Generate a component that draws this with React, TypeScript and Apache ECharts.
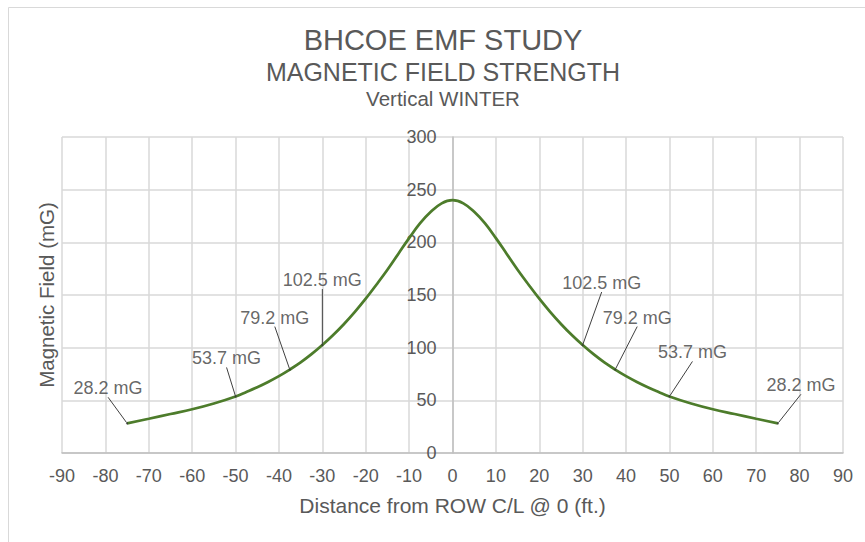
import React, { useEffect, useRef } from "react";
import * as echarts from "echarts";

// Distance from the ROW centre line (ft.) and the computed field at each station (mG)
const distance = [
  -75, -70, -65, -60, -55, -50, -47.5, -45, -42.5, -40, -37.5, -35, -32.5, -30,
  -27.5, -25, -22.5, -20, -17.5, -15, -12.5, -10, -7.5, -5, -2.5, 0,
  2.5, 5, 7.5, 10, 12.5, 15, 17.5, 20, 22.5, 25, 27.5, 30, 32.5, 35, 37.5, 40,
  42.5, 45, 47.5, 50, 55, 60, 65, 70, 75,
];
const field = [
  28.2, 32.5, 37, 41.5, 47, 53.7, 58, 62.5, 67.5, 73, 79.2, 86, 93.8, 102.5,
  112, 122.5, 134, 146.5, 160, 174, 189, 204, 218, 229, 237, 240,
  237, 229, 218, 204, 189, 174, 160, 146.5, 134, 122.5, 112, 102.5, 93.8, 86, 79.2, 73,
  67.5, 62.5, 58, 53.7, 47, 41.5, 37, 32.5, 28.2,
];

// Stations called out with their value
const calloutDistance = [-75, -50, -37.5, -30, 30, 37.5, 50, 75];
const calloutField = [28.2, 53.7, 79.2, 102.5, 102.5, 79.2, 53.7, 28.2];

// Axis ticks
const xTicks = { min: -90, max: 90, interval: 10 };
const yTicks = { min: 0, max: 300, interval: 50 };

const titles = ["BHCOE EMF STUDY", "MAGNETIC FIELD STRENGTH", "Vertical WINTER"];
const xAxisTitle = "Distance from ROW C/L @ 0 (ft.)";
const yAxisTitle = "Magnetic Field (mG)";

// Label offsets (px) of each callout from its point
const calloutOffsets: [number, number][] = [
  [-19, -35],
  [-9, -38],
  [-15, -52],
  [0, -65],
  [19, -62],
  [22, -52],
  [23, -44],
  [23, -38],
];

const FONT = "Liberation Sans, Arial, sans-serif";
const TEXT = "#595959";
const GRID = "#d9d9d9";
const AXIS = "#bfbfbf";
const LINE = "#4d7c2b";

const GRID_LEFT = 62;
const GRID_RIGHT = 22;
const WIDTH = 865;
const TITLE_X = 443;

export default function App() {
  const ref = useRef<HTMLDivElement>(null);

  useEffect(() => {
    if (!ref.current) return;
    const chart = echarts.init(ref.current, null, { renderer: "svg" });

    const curve = distance.map((d, i) => [d, field[i]]);
    const callouts = calloutDistance.map((d, i) => [d, calloutField[i]]);

    // The value axis sits on the x = 0 line, halfway across the symmetric plot
    const plotWidth = WIDTH - GRID_LEFT - GRID_RIGHT;
    const zeroOffset =
      (plotWidth * (0 - xTicks.min)) / (xTicks.max - xTicks.min);

    const titleText = (text: string, y: number, size: number) => ({
      type: "text",
      x: TITLE_X,
      y,
      silent: true,
      style: {
        text,
        fill: TEXT,
        fontFamily: FONT,
        fontSize: size,
        textAlign: "center",
        textVerticalAlign: "middle",
      },
    });

    chart.setOption({
      animation: false,
      backgroundColor: "#ffffff",
      textStyle: { fontFamily: FONT },
      graphic: [
        {
          type: "rect",
          shape: { x: 8.5, y: 7.5, width: 900, height: 600 },
          style: { fill: "none", stroke: GRID, lineWidth: 1 },
          silent: true,
        },
        titleText(titles[0], 40, 29),
        titleText(titles[1], 72, 25),
        titleText(titles[2], 98, 20.5),
        {
          type: "text",
          x: 46,
          y: 295,
          rotation: Math.PI / 2,
          silent: true,
          style: {
            text: yAxisTitle,
            fill: TEXT,
            fontFamily: FONT,
            fontSize: 20.5,
            textAlign: "center",
            textVerticalAlign: "middle",
          },
        },
      ],
      grid: {
        left: GRID_LEFT,
        right: GRID_RIGHT,
        top: 137,
        bottom: 89,
        containLabel: false,
        outerBoundsMode: "none",
      },
      xAxis: {
        type: "value",
        min: xTicks.min,
        max: xTicks.max,
        interval: xTicks.interval,
        name: xAxisTitle,
        nameLocation: "middle",
        nameGap: 42,
        nameTextStyle: { fontFamily: FONT, fontSize: 21, color: TEXT },
        axisLine: { show: true, onZero: false, lineStyle: { color: AXIS, width: 1.5 } },
        axisTick: { show: false },
        axisLabel: { fontFamily: FONT, fontSize: 18, color: TEXT, margin: 14 },
        splitLine: { show: true, lineStyle: { color: GRID, width: 1.5 } },
      },
      yAxis: {
        type: "value",
        min: yTicks.min,
        max: yTicks.max,
        interval: yTicks.interval,
        offset: -zeroOffset,
        axisLine: { show: true, onZero: false, lineStyle: { color: AXIS, width: 1.5 } },
        axisTick: { show: false },
        axisLabel: { fontFamily: FONT, fontSize: 18, color: TEXT, margin: 16 },
        splitLine: { show: true, lineStyle: { color: GRID, width: 1.5 } },
      },
      series: [
        {
          name: "Magnetic Field",
          type: "line",
          data: curve,
          smooth: 0.4,
          showSymbol: false,
          lineStyle: { color: LINE, width: 2.75 },
          z: 3,
        },
        {
          name: "Callouts",
          type: "scatter",
          data: callouts,
          symbol: "circle",
          symbolSize: 2,
          itemStyle: { color: "#333333" },
          z: 4,
          label: {
            show: true,
            position: "inside",
            fontFamily: FONT,
            fontSize: 18,
            color: "#404040",
            formatter: (p: any) => `${Number(p.value[1]).toFixed(1)} mG`,
          },
          labelLine: {
            show: true,
            lineStyle: { color: "#404040", width: 1 },
          },
          labelLayout: (p: any) => {
            const [dx, dy] = calloutOffsets[p.dataIndex] || [0, 0];
            return { dx, dy };
          },
        },
      ],
    });

    return () => chart.dispose();
  }, []);

  return (
    <div
      ref={ref}
      style={{ position: "absolute", left: 0, top: 0, width: WIDTH, height: 542 }}
    />
  );
}
